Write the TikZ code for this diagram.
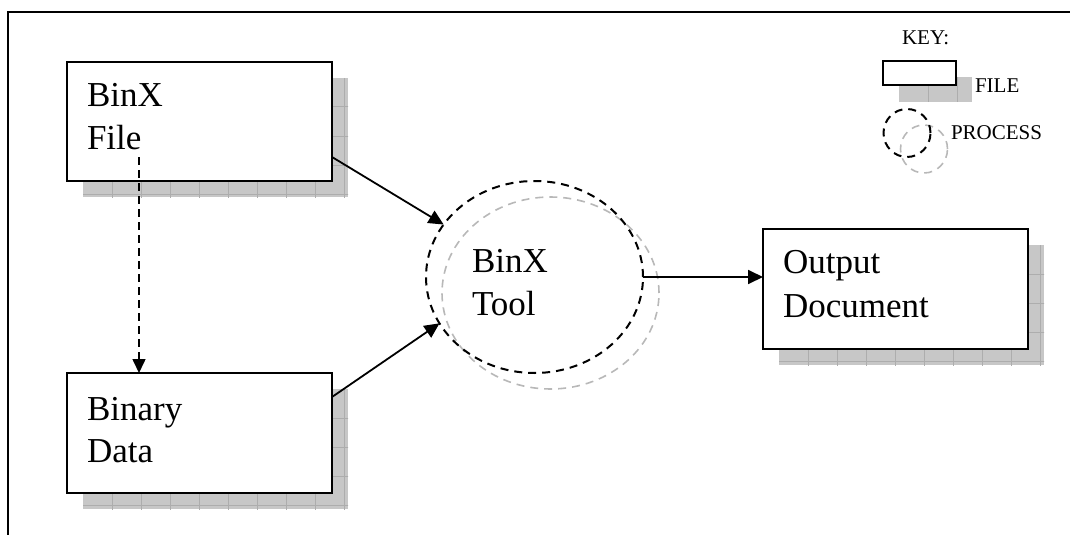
\documentclass[tikz,border=0pt]{standalone}
\usepackage{fontspec}
\setmainfont{Liberation Serif}
\usetikzlibrary{arrows.meta,shapes.geometric,calc}

\definecolor{shadowfill}{gray}{0.78}
\definecolor{shadowline}{gray}{0.68}
\definecolor{ghost}{gray}{0.72}

\tikzset{
  every node/.style={inner sep=0pt, outer sep=0pt},
  maintext/.style={anchor=base west, font=\fontsize{17.5}{20}\selectfont},
  keytext/.style={anchor=base west, font=\fontsize{10.5}{12}\selectfont},
  filebox/.style={rectangle, draw=black, line width=1pt, fill=white},
  fileshadow/.style={rectangle, fill=shadowfill,
    path picture={
      \foreach \k in {1,...,12}{
        \draw[shadowline, line width=0.5pt]
          ([xshift=\k*14.5pt]path picture bounding box.north west) -- ++(0pt,-100pt);
        \draw[shadowline, line width=0.5pt]
          ([yshift=-\k*14.5pt]path picture bounding box.north west) -- ++(200pt,0pt);
      }}},
  process/.style={ellipse, draw=black, line width=1pt, dash pattern=on 4pt off 3pt},
  processghost/.style={ellipse, draw=ghost, line width=0.8pt, dash pattern=on 4pt off 3pt},
  link/.style={line width=0.9pt, -{Triangle[length=7.5pt,width=7pt]}},
  dashlink/.style={line width=0.8pt, dash pattern=on 4pt off 2.5pt, -{Triangle[length=7pt,width=6.5pt]}},
}

\begin{document}
\begin{tikzpicture}[x=0.5pt, y=-0.5pt]
  \useasboundingbox (0,0) rectangle (1070,535);

  % frame
  \draw[line width=1pt] (8,535) -- (8,12) -- (1070,12);

  % shadows behind the files
  \node[fileshadow, minimum width=132.5pt, minimum height=59.5pt] (fileS) at (215.5,137.5) {};
  \node[fileshadow, minimum width=132.5pt, minimum height=60pt] (dataS) at (215.5,449) {};
  \node[fileshadow, minimum width=132.5pt, minimum height=60pt] (outS) at (911.5,305) {};
  \node[fileshadow, minimum width=36.5pt, minimum height=12.5pt] (keyfileS) at (935.5,89.5) {};

  % process outlines
  \node[processghost, minimum width=108.5pt, minimum height=96pt] (toolG) at (550.5,293) {};
  \node[processghost, minimum width=23.5pt, minimum height=24pt] (keyprocG) at (924,149) {};

  % files
  \node[filebox, minimum width=132.5pt, minimum height=59.5pt] (file) at (199.5,121.5) {};
  \node[filebox, minimum width=132.5pt, minimum height=60pt] (data) at (199.5,433) {};
  \node[filebox, minimum width=132.5pt, minimum height=60pt] (out) at (895.5,289) {};
  \node[filebox, minimum width=36.5pt, minimum height=12pt] (keyfile) at (919.5,73) {};

  % processes
  \node[process, minimum width=108.5pt, minimum height=96pt] (tool) at (534.5,277) {};
  \node[process, minimum width=23.5pt, minimum height=24pt] (keyproc) at (907,133) {};

  % labels
  \node[maintext] (fileA) at (87,107) {BinX};
  \node[maintext] (fileB) at (87,149) {File};
  \node[maintext] (dataA) at (87,420) {Binary};
  \node[maintext] (dataB) at (87,462) {Data};
  \node[maintext] (toolA) at (472,272) {BinX};
  \node[maintext] (toolB) at (472,315) {Tool};
  \node[maintext] (outA) at (783,273) {Output};
  \node[maintext] (outB) at (783,317) {Document};

  % key
  \node[keytext] (keyT) at (902,45) {KEY:};
  \node[keytext] (keyfileT) at (975,93) {FILE};
  \node[keytext] (keyprocT) at (951,140) {PROCESS};

  % connectors
  \coordinate (dstart) at (139,157);
  \draw[dashlink] (dstart) -- (dstart |- data.north);
  \draw[link] (file.east |- dstart) -- (tool.150);
  \draw[link] ([yshift=18pt]data.east) -- (tool.206);
  \draw[link] (tool.east) -- (tool.east -| out.west);
\end{tikzpicture}
\end{document}
